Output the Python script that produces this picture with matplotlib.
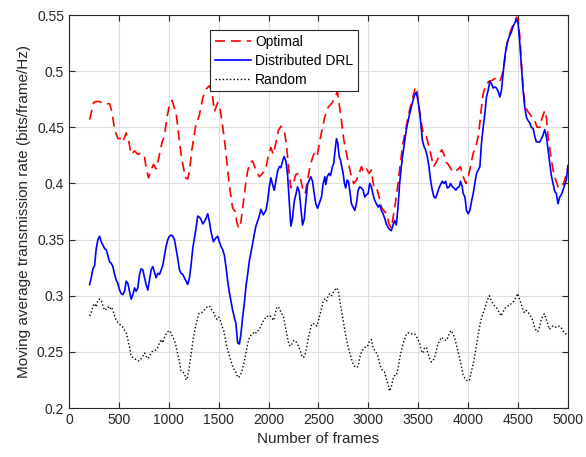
import numpy as np
import matplotlib.pyplot as plt

plt.rcParams['font.family'] = ['Liberation Sans', 'DejaVu Sans']

# moving-average rate per scheme (frames, bits/frame/Hz)
opt_frames = [207, 223, 247, 273, 307, 340, 373, 407, 430, 457, 490, 523, 540, 573, 600, 623, 657, 690, 723, 757,
              773, 797, 823, 847, 873, 900, 933, 957, 980, 1007, 1033, 1057, 1073, 1100, 1123, 1147, 1167, 1190, 1207,
              1233, 1267, 1290, 1307, 1340, 1373, 1407, 1433, 1457, 1490, 1513, 1540, 1567, 1590, 1613, 1640, 1667,
              1680, 1700, 1723, 1740, 1767, 1790, 1813, 1840, 1873, 1907, 1940, 1973, 2000, 2023, 2047, 2073, 2097,
              2123, 2157, 2180, 2200, 2223, 2247, 2273, 2300, 2323, 2347, 2367, 2390, 2413, 2440, 2467, 2490, 2513,
              2540, 2563, 2597, 2630, 2663, 2690, 2707, 2730, 2753, 2780, 2807, 2830, 2853, 2880, 2907, 2930, 2953,
              2980, 3007, 3030, 3053, 3080, 3107, 3130, 3153, 3180, 3207, 3230, 3253, 3273, 3297, 3320, 3347, 3373,
              3397, 3420, 3447, 3470, 3487, 3507, 3530, 3553, 3580, 3607, 3630, 3653, 3680, 3707, 3733, 3753, 3780,
              3800, 3833, 3867, 3900, 3923, 3950, 3977, 4000, 4023, 4050, 4077, 4100, 4117, 4133, 4150, 4177, 4210,
              4243, 4277, 4300, 4323, 4343, 4367, 4390, 4417, 4443, 4467, 4483, 4500, 4517, 4533, 4550, 4567, 4590,
              4617, 4643, 4667, 4690, 4717, 4743, 4767, 4783, 4800, 4823, 4850, 4877, 4900, 4923, 4943, 4967, 4983,
              5000]
opt_rate = [.457, .463, .472, .473, .473, .471, .471, .471, .464, .448, .440, .440, .437, .445, .437, .426, .429, .426,
            .427, .424, .414, .405, .412, .417, .413, .423, .437, .442, .458, .470, .474, .467, .463, .443, .426, .414,
            .405, .404, .411, .431, .450, .457, .461, .476, .484, .487, .482, .464, .472, .467, .451, .432, .412, .394,
            .378, .375, .366, .360, .366, .378, .397, .411, .419, .420, .412, .406, .409, .414, .426, .432, .426, .436,
            .447, .451, .447, .434, .414, .396, .400, .408, .409, .403, .393, .391, .403, .414, .423, .429, .426, .438,
            .450, .459, .468, .471, .476, .482, .471, .456, .439, .427, .415, .406, .400, .403, .409, .415, .410, .413,
            .409, .412, .397, .397, .388, .379, .376, .373, .364, .360, .373, .384, .400, .418, .436, .448, .459, .468,
            .477, .486, .483, .468, .454, .443, .442, .433, .424, .415, .419, .424, .430, .427, .419, .417, .412, .410,
            .413, .415, .406, .400, .406, .415, .427, .433, .442, .454, .468, .480, .488, .491, .492, .494, .491, .492,
            .498, .510, .525, .534, .540, .544, .548, .546, .531, .507, .486, .471, .465, .462, .458, .456, .450, .450,
            .459, .465, .459, .442, .427, .412, .403, .397, .396, .397, .403, .409, .415]

drl_frames = [207, 223, 240, 257, 273, 290, 307, 323, 340, 357, 373, 390, 407, 423, 440, 457, 473, 490, 507, 523, 540,
              557, 573, 590, 607, 623, 640, 657, 673, 690, 707, 723, 740, 757, 773, 790, 807, 823, 840, 857, 873, 890,
              907, 923, 940, 957, 973, 990, 1007, 1023, 1040, 1057, 1073, 1090, 1107, 1123, 1140, 1157, 1173, 1190,
              1207, 1223, 1240, 1257, 1273, 1290, 1307, 1323, 1340, 1357, 1373, 1390, 1407, 1423, 1447, 1467, 1490,
              1507, 1523, 1540, 1557, 1573, 1590, 1607, 1640, 1673, 1690, 1707, 1723, 1740, 1757, 1773, 1790, 1807,
              1833, 1857, 1873, 1900, 1923, 1947, 1973, 1990, 2007, 2023, 2040, 2057, 2073, 2090, 2107, 2123, 2140,
              2157, 2173, 2190, 2207, 2223, 2240, 2257, 2273, 2290, 2307, 2323, 2340, 2357, 2373, 2390, 2407, 2423,
              2440, 2457, 2473, 2490, 2507, 2530, 2547, 2563, 2573, 2587, 2607, 2620, 2640, 2653, 2667, 2680, 2693,
              2707, 2720, 2733, 2747, 2760, 2773, 2787, 2800, 2813, 2830, 2847, 2863, 2880, 2897, 2913, 2930, 2947,
              2963, 2980, 2997, 3013, 3030, 3047, 3063, 3080, 3097, 3113, 3130, 3147, 3163, 3180, 3197, 3213, 3230,
              3247, 3263, 3280, 3297, 3313, 3330, 3347, 3363, 3380, 3397, 3413, 3430, 3447, 3463, 3477, 3490, 3507,
              3523, 3540, 3557, 3573, 3590, 3607, 3623, 3640, 3657, 3673, 3690, 3707, 3723, 3740, 3757, 3773, 3790,
              3810, 3823, 3843, 3857, 3877, 3890, 3910, 3923, 3940, 3950, 3967, 3983, 4000, 4017, 4033, 4050, 4067,
              4083, 4100, 4117, 4133, 4150, 4167, 4183, 4200, 4217, 4233, 4250, 4267, 4283, 4300, 4317, 4333, 4350,
              4367, 4383, 4400, 4417, 4433, 4450, 4467, 4483, 4500, 4517, 4533, 4550, 4567, 4583, 4600, 4617, 4633,
              4650, 4667, 4683, 4700, 4717, 4733, 4750, 4767, 4783, 4800, 4817, 4833, 4850, 4867, 4883, 4900, 4917,
              4933, 4950, 4967, 4983, 5000]
drl_rate = [.310, .316, .324, .327, .342, .350, .353, .348, .345, .342, .341, .336, .330, .329, .326, .319, .314, .311,
            .305, .302, .301, .304, .313, .311, .304, .297, .301, .307, .304, .307, .319, .324, .323, .316, .310, .305,
            .314, .323, .326, .321, .316, .320, .319, .323, .327, .336, .344, .350, .353, .354, .353, .350, .342, .333,
            .323, .320, .319, .316, .313, .310, .316, .327, .342, .351, .360, .371, .370, .368, .364, .366, .369, .373,
            .366, .357, .348, .351, .353, .348, .344, .341, .336, .326, .313, .303, .287, .275, .258, .257, .266, .281,
            .293, .308, .319, .331, .343, .355, .362, .369, .377, .372, .376, .384, .397, .405, .399, .394, .402, .411,
            .415, .414, .420, .424, .420, .408, .384, .362, .369, .384, .390, .397, .393, .378, .363, .368, .384, .399,
            .403, .406, .402, .391, .382, .378, .382, .388, .400, .406, .399, .406, .409, .407, .415, .418, .430, .440,
            .436, .424, .421, .415, .409, .400, .396, .403, .402, .394, .382, .379, .376, .382, .394, .397, .396, .394,
            .388, .390, .391, .400, .397, .390, .385, .382, .379, .381, .376, .373, .369, .364, .361, .359, .358, .363,
            .367, .363, .379, .400, .415, .427, .437, .448, .455, .462, .468, .474, .479, .481, .477, .468, .456, .439,
            .433, .430, .424, .415, .403, .394, .388, .387, .391, .396, .399, .402, .400, .402, .396, .397, .400, .397,
            .396, .394, .396, .397, .402, .397, .391, .388, .376, .373, .376, .384, .391, .400, .409, .412, .415, .436,
            .450, .462, .477, .483, .491, .489, .485, .486, .485, .482, .477, .483, .498, .513, .522, .528, .532, .535,
            .540, .543, .546, .543, .525, .504, .483, .468, .459, .456, .454, .450, .449, .442, .437, .437, .437, .440,
            .443, .448, .442, .430, .418, .407, .400, .393, .391, .382, .388, .390, .394, .399, .403, .416]

rnd_frames = [207, 223, 240, 257, 273, 290, 307, 323, 340, 357, 373, 390, 407, 423, 440, 457, 473, 490, 507, 523, 540,
              557, 573, 590, 607, 623, 640, 657, 673, 690, 707, 723, 740, 757, 773, 790, 807, 823, 840, 857, 873, 890,
              907, 923, 940, 957, 973, 990, 1007, 1023, 1040, 1057, 1073, 1090, 1107, 1123, 1140, 1157, 1173, 1183,
              1200, 1217, 1233, 1250, 1267, 1283, 1300, 1317, 1333, 1350, 1367, 1383, 1400, 1417, 1433, 1450, 1467,
              1483, 1500, 1517, 1533, 1550, 1567, 1583, 1600, 1617, 1633, 1650, 1667, 1683, 1700, 1717, 1733, 1750,
              1767, 1783, 1800, 1817, 1833, 1850, 1867, 1883, 1900, 1917, 1933, 1950, 1967, 1983, 2000, 2017, 2033,
              2050, 2067, 2083, 2100, 2117, 2133, 2150, 2167, 2183, 2200, 2217, 2233, 2250, 2267, 2283, 2300, 2317,
              2333, 2350, 2367, 2383, 2400, 2417, 2433, 2450, 2467, 2483, 2500, 2517, 2533, 2550, 2563, 2580, 2597,
              2613, 2630, 2647, 2663, 2680, 2697, 2713, 2730, 2747, 2763, 2780, 2797, 2813, 2830, 2847, 2863, 2880,
              2897, 2913, 2930, 2947, 2963, 2980, 2997, 3013, 3030, 3047, 3063, 3080, 3097, 3113, 3130, 3147, 3163,
              3180, 3197, 3213, 3230, 3247, 3263, 3280, 3297, 3313, 3330, 3347, 3363, 3380, 3397, 3413, 3430, 3447,
              3463, 3480, 3497, 3513, 3530, 3547, 3563, 3580, 3597, 3613, 3630, 3647, 3663, 3680, 3697, 3713, 3730,
              3747, 3763, 3780, 3797, 3813, 3830, 3847, 3863, 3880, 3897, 3913, 3930, 3947, 3963, 3980, 3997, 4013,
              4030, 4047, 4063, 4080, 4097, 4113, 4130, 4147, 4163, 4180, 4197, 4213, 4230, 4247, 4263, 4280, 4297,
              4313, 4330, 4347, 4363, 4380, 4397, 4413, 4430, 4447, 4463, 4480, 4497, 4513, 4530, 4547, 4563, 4580,
              4597, 4613, 4630, 4647, 4663, 4680, 4697, 4713, 4730, 4747, 4763, 4780, 4797, 4813, 4830, 4847, 4863,
              4880, 4897, 4913, 4930, 4947, 4963, 4980, 4995]
rnd_rate = [.282, .285, .291, .293, .290, .296, .297, .296, .291, .287, .288, .290, .288, .290, .287, .282, .278, .276,
            .275, .273, .272, .269, .267, .261, .254, .246, .245, .244, .243, .242, .242, .244, .246, .249, .246, .244,
            .246, .249, .251, .251, .252, .254, .258, .261, .258, .263, .266, .268, .269, .267, .263, .260, .255, .248,
            .241, .233, .232, .231, .225, .226, .233, .244, .254, .264, .272, .278, .284, .285, .285, .287, .288, .290,
            .291, .290, .287, .285, .281, .279, .281, .278, .273, .269, .261, .254, .249, .244, .239, .235, .233, .229,
            .227, .229, .233, .239, .246, .254, .261, .264, .266, .267, .266, .269, .269, .272, .275, .278, .280, .282,
            .281, .282, .280, .278, .284, .290, .290, .287, .284, .281, .273, .266, .258, .255, .257, .260, .260, .258,
            .255, .251, .246, .245, .248, .255, .263, .269, .275, .275, .275, .273, .278, .284, .290, .296, .297, .295,
            .300, .302, .300, .303, .305, .307, .305, .296, .287, .278, .269, .261, .255, .249, .244, .239, .237, .236,
            .237, .245, .250, .252, .254, .254, .256, .260, .261, .254, .251, .249, .246, .239, .235, .233, .232, .226,
            .221, .215, .219, .226, .229, .229, .235, .244, .251, .257, .261, .266, .267, .266, .266, .266, .266, .264,
            .261, .258, .251, .249, .254, .254, .249, .244, .241, .242, .245, .251, .257, .260, .263, .262, .261, .260,
            .263, .267, .269, .266, .263, .257, .251, .245, .238, .230, .227, .225, .224, .225, .232, .238, .245, .254,
            .263, .272, .279, .284, .288, .293, .297, .300, .296, .293, .291, .290, .287, .285, .282, .285, .288, .290,
            .291, .291, .293, .294, .296, .299, .302, .297, .293, .288, .285, .287, .285, .284, .281, .278, .273, .269,
            .268, .272, .278, .282, .284, .279, .275, .270, .272, .273, .272, .272, .272, .273, .272, .269, .267, .266,
            .264]

fig = plt.figure(figsize=(5.86, 4.57), dpi=100)
ax = fig.add_axes([0.1177, 0.1072, 0.8516, 0.8598])

ax.plot(opt_frames, opt_rate, color='#ff0000', linestyle=(0, (6, 3.5)), linewidth=1.2, label='Optimal')
ax.plot(drl_frames, drl_rate, color='#0000ff', linestyle='-', linewidth=1.2, label='Distributed DRL')
ax.plot(rnd_frames, rnd_rate, color='black', linestyle=(0, (1, 1.6)), linewidth=1.0, label='Random')

ax.set_xlim(0, 5000)
ax.set_ylim(0.2, 0.55)
ax.set_xticks(np.arange(0, 5001, 500))
ax.set_yticks(np.arange(0.2, 0.551, 0.05))
ax.set_yticklabels(['0.2', '0.25', '0.3', '0.35', '0.4', '0.45', '0.5', '0.55'])
ax.grid(True, color='#dedede', linewidth=0.8)
ax.set_axisbelow(True)
ax.tick_params(direction='in', top=True, right=True, labelsize=10, length=4, width=0.8, colors='#262626')
for s in ax.spines.values():
    s.set_linewidth(0.8)
    s.set_color('#262626')

ax.set_xlabel('Number of frames', fontsize=11, color='#262626')
ax.set_ylabel('Moving average transmission rate (bits/frame/Hz)', fontsize=11, color='#262626')

leg = ax.legend(loc='upper left', bbox_to_anchor=(0.283, 0.962), fontsize=10, fancybox=False, framealpha=1,
                edgecolor='#262626', handlelength=2.6, handletextpad=0.3, borderpad=0.35, labelspacing=0.35,
                borderaxespad=0)
leg.get_frame().set_linewidth(0.8)

fig.savefig('out.png', dpi=100)
